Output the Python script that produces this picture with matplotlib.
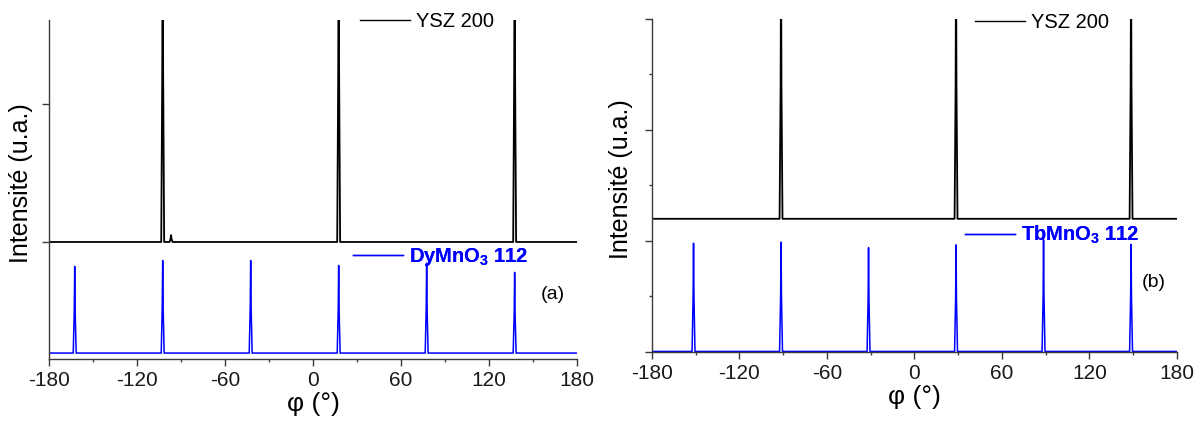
"""Phi-scans of YSZ 200 and the RMnO3 112 reflections, two panels (a) and (b)."""

import matplotlib

matplotlib.use("Agg")
import matplotlib.pyplot as plt
from matplotlib.lines import Line2D
from matplotlib.ticker import MultipleLocator

plt.rcParams["font.family"] = ["Liberation Sans", "DejaVu Sans"]
plt.rcParams["mathtext.fontset"] = "custom"
plt.rcParams["mathtext.rm"] = "Liberation Sans"
plt.rcParams["mathtext.bf"] = "Liberation Sans:bold"
plt.rcParams["axes.unicode_minus"] = False

# panel (a): YSZ 200 on top of DyMnO3 112 (arbitrary intensity units)
ysz_a_phi = [-102.5, -96.8, 17.5, 137.5]
ysz_a_height = [3.5, 1.05, 3.5, 3.5]
ysz_a_base = 1.0
dy_phi = [-162.5, -102.5, -42.5, 17.5, 77.5, 137.5]
dy_height = [0.823, 0.866, 0.866, 0.830, 0.847, 0.780]
dy_base = 0.196

# panel (b): YSZ 200 on top of TbMnO3 112
ysz_b_phi = [-91.5, 28.5, 148.5]
ysz_b_height = [3.6, 3.6, 3.6]
ysz_b_base = 1.2
tb_phi = [-151.5, -91.5, -31.5, 28.5, 88.5, 148.5]
tb_height = [0.98, 0.99, 0.94, 0.965, 1.01, 0.97]
tb_base = 0.005

PEAK_HALF_WIDTH = 1.0
BLUE = "#0000ff"
AXIS_GREY = "#3a3a3a"


def scan_line(phis, heights, base):
    """Flat baseline from -180 to 180 with a narrow spike at each peak."""
    xs, ys = [-180.0], [base]
    for p, h in sorted(zip(phis, heights)):
        xs += [p - PEAK_HALF_WIDTH, p - 0.3, p, p + 0.3, p + PEAK_HALF_WIDTH]
        ys += [base, base + 0.5 * (h - base), h, base + 0.5 * (h - base), base]
    xs.append(180.0)
    ys.append(base)
    return xs, ys


def style_axes(ax):
    for side in ("top", "right"):
        ax.spines[side].set_visible(False)
    for side in ("left", "bottom"):
        ax.spines[side].set_color(AXIS_GREY)
        ax.spines[side].set_linewidth(1.0)
    ax.set_xlim(-180, 180)
    ax.xaxis.set_major_locator(MultipleLocator(60))
    ax.xaxis.set_minor_locator(MultipleLocator(30))
    ax.tick_params(which="both", direction="out", color=AXIS_GREY, width=1.0)
    ax.tick_params(which="major", length=5)
    ax.tick_params(which="minor", length=2.5)
    ax.tick_params(axis="x", labelsize=15, colors=AXIS_GREY, labelcolor="#1a1a1a", pad=4)
    ax.tick_params(axis="y", labelleft=False)
    ax.set_xlabel("φ (°)", fontsize=19, labelpad=1)
    ax.set_ylabel("Intensité (u.a.)", fontsize=18)


def add_key(ax, label, color, x, y, bold=False):
    handle = Line2D([], [], color=color, lw=1.0)
    leg = ax.legend(
        [handle],
        [label],
        loc="center left",
        bbox_to_anchor=(x, y),
        frameon=False,
        borderpad=0,
        borderaxespad=0,
        handlelength=2.5,
        handletextpad=0.3,
        prop={"size": 14.5, "weight": "bold" if bold else "normal"},
    )
    for t in leg.get_texts():
        t.set_color(color)
    ax.add_artist(leg)


fig = plt.figure(figsize=(12.02, 4.21), dpi=100)
ax_a = fig.add_axes([0.0408, 0.1473, 0.4392, 0.8052])
ax_b = fig.add_axes([0.5424, 0.1639, 0.4368, 0.7910])

# (a)
x, y = scan_line(ysz_a_phi, ysz_a_height, ysz_a_base)
ax_a.plot(x, y, color="black", lw=1.3)
x, y = scan_line(dy_phi, dy_height, dy_base)
ax_a.plot(x, y, color=BLUE, lw=1.1)
style_axes(ax_a)
ax_a.set_ylim(0.153, 2.607)
ax_a.set_yticks([1, 2])
ax_a.yaxis.set_label_coords(-0.030, 0.52)
add_key(ax_a, "YSZ 200", "black", 0.589, 0.995)
add_key(ax_a, r"DyMnO$_{\mathbf{3}}$ 112", BLUE, 0.575, 0.30, bold=True)
ax_a.text(0.955, 0.19, "(a)", transform=ax_a.transAxes, fontsize=14, ha="center", va="center")

# (b)
x, y = scan_line(ysz_b_phi, ysz_b_height, ysz_b_base)
ax_b.plot(x, y, color="black", lw=1.3)
x, y = scan_line(tb_phi, tb_height, tb_base)
ax_b.plot(x, y, color=BLUE, lw=1.1)
style_axes(ax_b)
ax_b.set_ylim(0, 3)
ax_b.yaxis.set_major_locator(MultipleLocator(1))
ax_b.yaxis.set_minor_locator(MultipleLocator(0.5))
ax_b.yaxis.set_label_coords(-0.036, 0.52)
add_key(ax_b, "YSZ 200", "black", 0.615, 0.99)
add_key(ax_b, r"TbMnO$_{\mathbf{3}}$ 112", BLUE, 0.596, 0.351, bold=True)
ax_b.text(0.955, 0.21, "(b)", transform=ax_b.transAxes, fontsize=14, ha="center", va="center")

fig.savefig("out.png", dpi=100)
